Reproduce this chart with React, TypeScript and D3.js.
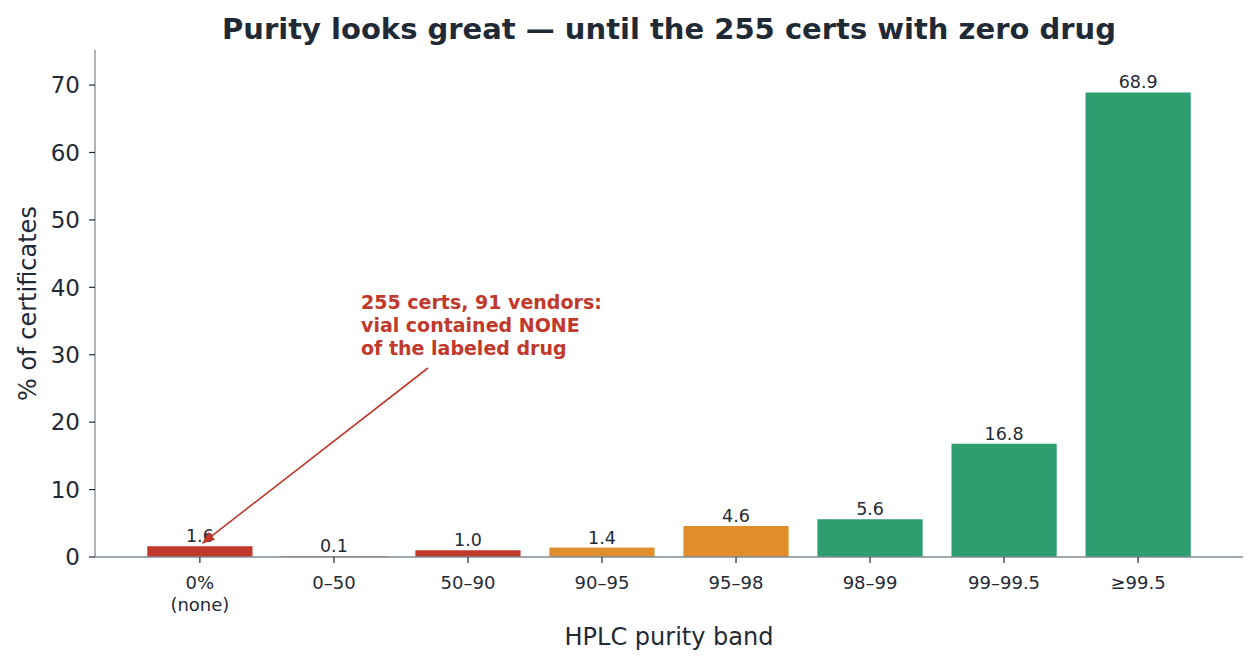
import * as d3 from "d3";

const bands = ["0%\n(none)", "0–50", "50–90", "90–95", "95–98", "98–99", "99–99.5", "≥99.5"];
const shares = [1.6, 0.1, 1.0, 1.4, 4.6, 5.6, 16.8, 68.9];
const tiers = ["none", "low", "low", "mid", "mid", "high", "high", "high"];
const yTicks = [0, 10, 20, 30, 40, 50, 60, 70];

const tierColor: Record<string, string> = {
  none: "#c0392b",
  low: "#c0392b",
  mid: "#e08e2c",
  high: "#2e9e70",
};

const W = 1259;
const H = 667;
const margin = { top: 50, right: 16, bottom: 110, left: 95 };
const ink = "#1f2a36";
const spine = "#808b96";

export default function App() {
  const x = d3
    .scaleBand<string>()
    .domain(bands)
    .range([margin.left, W - margin.right])
    .paddingInner(0.215)
    .paddingOuter(0.39);
  const y = d3.scaleLinear().domain([0, 75.2]).range([H - margin.bottom, margin.top]);

  const base = y(0);
  const cx = (b: string) => (x(b) ?? 0) + x.bandwidth() / 2;

  // annotation: arrow from the text to the zero-drug bar
  const arrowTip = { x: cx(bands[0]) + 3, y: y(2.1) };
  const arrowTail = { x: 428, y: 368 };

  return (
    <svg width={W} height={H} style={{ position: "absolute", left: 0, top: 0, fontFamily: "DejaVu Sans" }}>
      <defs>
        <marker id="head" viewBox="0 0 10 10" refX="9" refY="5" markerWidth="8" markerHeight="8" orient="auto-start-reverse">
          <path d="M0,1 L10,5 L0,9 z" fill="#c0392b" />
        </marker>
      </defs>
      <rect width={W} height={H} fill="#fff" />

      <text x={(margin.left + W - margin.right) / 2} y={39} textAnchor="middle" fontSize={29} fontWeight="bold" fill={ink}>
        Purity looks great — until the 255 certs with zero drug
      </text>

      {bands.map((b, i) => (
        <g key={b}>
          <rect
            x={x(b)}
            y={y(shares[i])}
            width={x.bandwidth()}
            height={base - y(shares[i])}
            fill={tierColor[tiers[i]]}
          />
          <text x={cx(b)} y={y(shares[i]) - 4} textAnchor="middle" fontSize={17.5} fill={ink}>
            {shares[i].toFixed(1)}
          </text>
        </g>
      ))}

      {/* spines */}
      <line x1={margin.left} x2={margin.left} y1={margin.top} y2={base} stroke={spine} strokeWidth={1.3} />
      <line x1={margin.left} x2={W - margin.right} y1={base} y2={base} stroke={spine} strokeWidth={1.3} />

      {yTicks.map((t) => (
        <g key={t}>
          <line x1={margin.left - 6} x2={margin.left} y1={y(t)} y2={y(t)} stroke={ink} strokeWidth={1.2} />
          <text x={margin.left - 15} y={y(t)} dy="0.36em" textAnchor="end" fontSize={23} fill={ink}>
            {t}
          </text>
        </g>
      ))}

      {bands.map((b) => (
        <g key={"t" + b}>
          <line x1={cx(b)} x2={cx(b)} y1={base} y2={base + 6} stroke={ink} strokeWidth={1.2} />
          {b.split("\n").map((ln, j) => (
            <text key={j} x={cx(b)} y={base + 32 + j * 22} textAnchor="middle" fontSize={18} fill={ink}>
              {ln}
            </text>
          ))}
        </g>
      ))}

      <text x={(margin.left + W - margin.right) / 2} y={645} textAnchor="middle" fontSize={24} fill={ink}>
        HPLC purity band
      </text>
      <text
        transform={`translate(36,${(margin.top + base) / 2}) rotate(-90)`}
        textAnchor="middle"
        fontSize={24}
        fill={ink}
      >
        % of certificates
      </text>

      <line
        x1={arrowTail.x}
        y1={arrowTail.y}
        x2={arrowTip.x}
        y2={arrowTip.y}
        stroke="#c0392b"
        strokeWidth={1.6}
        markerEnd="url(#head)"
      />
      {["255 certs, 91 vendors:", "vial contained NONE", "of the labeled drug"].map((ln, j) => (
        <text key={j} x={361} y={309 + j * 23} fontSize={19} fontWeight="bold" fill="#c0392b">
          {ln}
        </text>
      ))}
    </svg>
  );
}
